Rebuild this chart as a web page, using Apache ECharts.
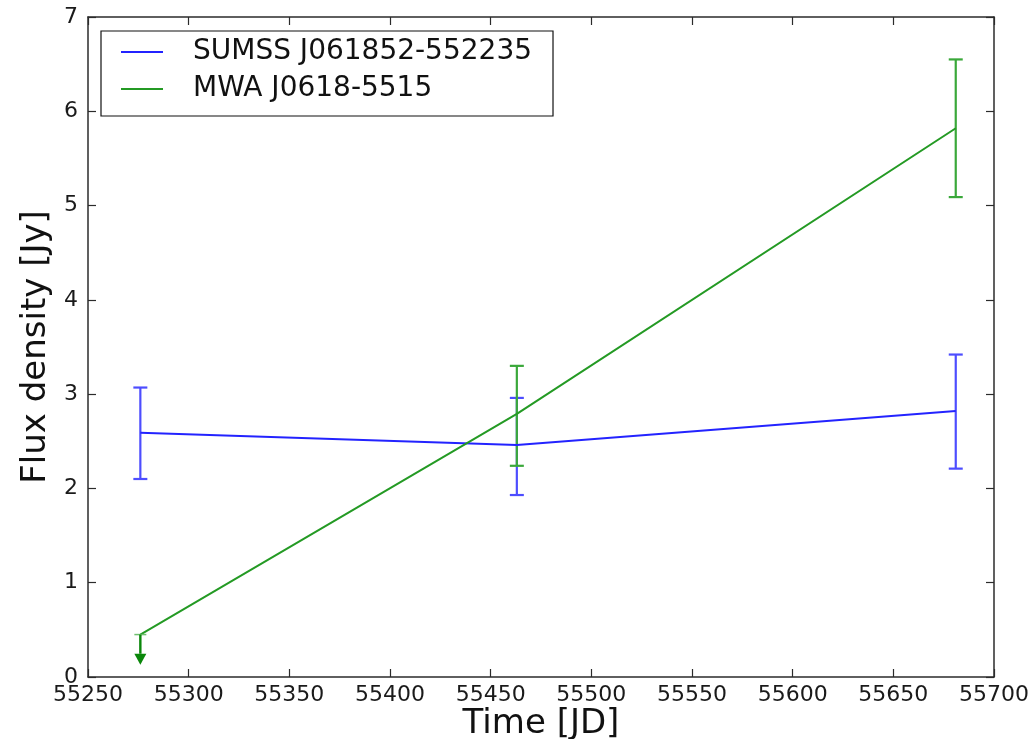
<!DOCTYPE html>
<html>
<head>
<meta charset="utf-8">
<script src="https://cdn.jsdelivr.net/npm/echarts@6/dist/echarts.min.js"></script>
<style>
html,body{margin:0;padding:0;background:#fff;}
#c{width:1033px;height:739px;}
</style>
</head>
<body>
<div id="c"></div>
<script>
// ---- data ----
var times = [55276, 55463, 55681];
var sumssName = 'SUMSS J061852-552235';
var sumssFlux = [2.59, 2.46, 2.82];
var sumssLow  = [2.10, 1.93, 2.21];
var sumssHigh = [3.07, 2.96, 3.42];

var mwaName = 'MWA J0618-5515';
var mwaFlux = [0.45, 2.79, 5.82];
var mwaLow  = [null, 2.24, 5.09];
var mwaHigh = [null, 3.30, 6.55];
// upper limit on first MWA point: arrow from value down to tip
var mwaLimitIndex = [0];
var mwaLimitTip = [0.13];

var xTicks = [55250, 55300, 55350, 55400, 55450, 55500, 55550, 55600, 55650, 55700];
var yTicks = [0, 1, 2, 3, 4, 5, 6, 7];

// ---- styles ----
var FONT = 'DejaVu Sans';
var BLUE_LINE = '#2323ff';
var BLUE_ERR = '#4d4dff';
var GREEN_LINE = '#249a24';
var GREEN_ERR = '#3aa83a';
var GREEN_ARROW = '#0a870a';
var AXIS = '#2b2b2b';

function pairs(xs, ys) { return xs.map(function (x, i) { return [x, ys[i]]; }); }
function errData(xs, lo, hi) {
  var out = [];
  xs.forEach(function (x, i) { if (lo[i] != null && hi[i] != null) out.push([x, lo[i], hi[i]]); });
  return out;
}
function errRender(color) {
  return function (params, api) {
    var x = api.value(0);
    var p1 = api.coord([x, api.value(1)]);
    var p2 = api.coord([x, api.value(2)]);
    var hw = 7;
    var st = { stroke: color, lineWidth: 2.2 };
    return {
      type: 'group',
      children: [
        { type: 'line', shape: { x1: p1[0], y1: p1[1], x2: p2[0], y2: p2[1] }, style: st },
        { type: 'line', shape: { x1: p1[0] - hw, y1: p1[1], x2: p1[0] + hw, y2: p1[1] }, style: st },
        { type: 'line', shape: { x1: p2[0] - hw, y1: p2[1], x2: p2[0] + hw, y2: p2[1] }, style: st }
      ]
    };
  };
}
var limitData = mwaLimitIndex.map(function (idx, k) { return [times[idx], mwaFlux[idx], mwaLimitTip[k]]; });

var chart = echarts.init(document.getElementById('c'), null, { renderer: 'canvas' });
var axisLabelStyle = { fontFamily: FONT, fontSize: 22, color: '#1a1a1a' };
chart.setOption({
  animation: false,
  backgroundColor: '#ffffff',
  textStyle: { fontFamily: FONT },
  grid: { left: 88, right: 39, top: 17, bottom: 62, containLabel: false, outerBoundsMode: 'none' },
  xAxis: [{
    type: 'value', min: xTicks[0], max: xTicks[xTicks.length - 1], interval: 50,
    position: 'bottom',
    name: 'Time [JD]', nameLocation: 'middle', nameGap: 30, nameMoveOverlap: false,
    nameTextStyle: { fontFamily: FONT, fontSize: 34, color: '#111' },
    axisLine: { show: true, onZero: false, lineStyle: { color: AXIS, width: 1.5 } },
    axisTick: { show: true, inside: true, length: 8, lineStyle: { color: AXIS, width: 1.2 } },
    axisLabel: Object.assign({ margin: 7, formatter: function (v) { return String(v); } }, axisLabelStyle),
    splitLine: { show: false }
  }, {
    type: 'value', min: xTicks[0], max: xTicks[xTicks.length - 1], interval: 50,
    position: 'top',
    axisLine: { show: true, onZero: false, lineStyle: { color: AXIS, width: 1.5 } },
    axisTick: { show: true, inside: true, length: 8, lineStyle: { color: AXIS, width: 1.2 } },
    axisLabel: { show: false },
    splitLine: { show: false }
  }],
  yAxis: [{
    type: 'value', min: yTicks[0], max: yTicks[yTicks.length - 1], interval: 1,
    position: 'left',
    name: 'Flux density [Jy]', nameLocation: 'middle', nameGap: 34, nameRotate: 90,
    nameTextStyle: { fontFamily: FONT, fontSize: 34, color: '#111' },
    axisLine: { show: true, onZero: false, lineStyle: { color: AXIS, width: 1.5 } },
    axisTick: { show: true, inside: true, length: 8, lineStyle: { color: AXIS, width: 1.2 } },
    axisLabel: Object.assign({ margin: 10 }, axisLabelStyle),
    splitLine: { show: false }
  }, {
    type: 'value', min: yTicks[0], max: yTicks[yTicks.length - 1], interval: 1,
    position: 'right',
    axisLine: { show: true, onZero: false, lineStyle: { color: AXIS, width: 1.5 } },
    axisTick: { show: true, inside: true, length: 8, lineStyle: { color: AXIS, width: 1.2 } },
    axisLabel: { show: false },
    splitLine: { show: false }
  }],
  legend: {
    left: 101, top: 31, orient: 'vertical',
    padding: [7, 21, 13, 20],
    borderColor: '#111', borderWidth: 1.2, backgroundColor: '#fff',
    itemWidth: 42, itemHeight: 2, itemGap: 9,
    icon: 'rect',
    textStyle: { fontFamily: FONT, fontSize: 28, color: '#111', padding: [0, 0, 0, 25] },
    data: [
      { name: sumssName, itemStyle: { color: BLUE_LINE } },
      { name: mwaName, itemStyle: { color: GREEN_LINE } }
    ]
  },
  series: [
    {
      name: sumssName, type: 'line', data: pairs(times, sumssFlux),
      showSymbol: false, symbol: 'none', color: BLUE_LINE,
      lineStyle: { color: BLUE_LINE, width: 2 }, z: 3
    },
    {
      name: sumssName, type: 'custom', data: errData(times, sumssLow, sumssHigh),
      renderItem: errRender(BLUE_ERR), z: 2, silent: true
    },
    {
      name: mwaName, type: 'line', data: pairs(times, mwaFlux),
      showSymbol: false, symbol: 'none', color: GREEN_LINE,
      lineStyle: { color: GREEN_LINE, width: 2 }, z: 3
    },
    {
      name: mwaName, type: 'custom', data: errData(times, mwaLow, mwaHigh),
      renderItem: errRender(GREEN_ERR), z: 2, silent: true
    },
    {
      name: mwaName, type: 'custom', data: limitData, z: 4, silent: true,
      renderItem: function (params, api) {
        var x = api.value(0);
        var top = api.coord([x, api.value(1)]);
        var tip = api.coord([x, api.value(2)]);
        var headH = 11, headW = 6;
        return {
          type: 'group',
          children: [
            { type: 'line', shape: { x1: top[0] - 6, y1: top[1], x2: top[0] + 6, y2: top[1] }, style: { stroke: '#6fbf6f', lineWidth: 1.5 } },
            { type: 'line', shape: { x1: top[0], y1: top[1], x2: tip[0], y2: tip[1] - headH }, style: { stroke: GREEN_ARROW, lineWidth: 2.4 } },
            { type: 'polygon', shape: { points: [[tip[0] - headW, tip[1] - headH], [tip[0] + headW, tip[1] - headH], [tip[0], tip[1]]] }, style: { fill: GREEN_ARROW } }
          ]
        };
      }
    }
  ]
});
</script>
</body>
</html>
